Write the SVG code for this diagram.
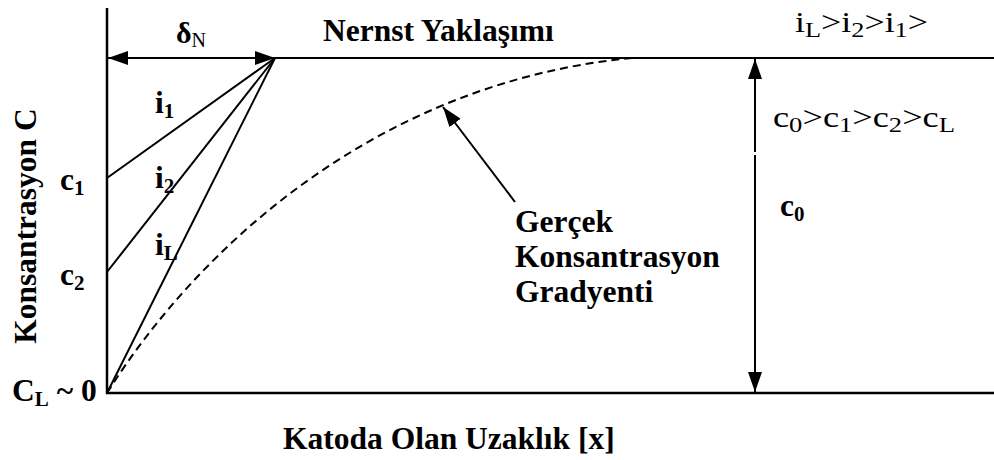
<svg xmlns="http://www.w3.org/2000/svg" width="994" height="460" viewBox="0 0 994 460">
<defs>
<marker id="ah" viewBox="0 0 20 14" refX="20" refY="7" markerWidth="20" markerHeight="14" markerUnits="userSpaceOnUse" orient="auto-start-reverse">
<path d="M0,0 L20,7 L0,14 z" fill="#000"/>
</marker>
</defs>
<style>
.ln{stroke:#000;stroke-width:2;fill:none}
.ax{stroke:#000;stroke-width:2.5;fill:none}
.dash{stroke:#000;stroke-width:2;fill:none;stroke-dasharray:8 5}
.b{font-family:"Liberation Serif","Times New Roman",serif;font-weight:bold;font-size:31.5px;fill:#000}
.r{font-family:"Liberation Serif","Times New Roman",serif;font-size:30px;fill:#000}
.s{font-size:21px}
.rs{font-size:22px}
</style>
<rect width="994" height="460" fill="#fff"/>
<g id="axes">
<line class="ax" x1="107" y1="8" x2="107" y2="394"/>
<line class="ax" x1="106" y1="393" x2="994" y2="393"/>
<line class="ln" x1="275" y1="58" x2="994" y2="58"/>
</g>
<g id="connectors">
<line class="ln" x1="108" y1="58" x2="275" y2="58" marker-start="url(#ah)" marker-end="url(#ah)"/>
<line class="ln" x1="755" y1="59" x2="755" y2="392" stroke-dasharray="93 3 400" marker-start="url(#ah)" marker-end="url(#ah)"/>
<line class="ln" x1="107" y1="178" x2="275" y2="58"/>
<line class="ln" x1="107" y1="272" x2="275" y2="58"/>
<line class="ln" x1="107" y1="393" x2="275" y2="58"/>
<path class="dash" d="M107,393 C200,245 380,82 632,58"/>
<line class="ln" x1="515" y1="202" x2="443" y2="107" marker-end="url(#ah)"/>
</g>
<g id="label-deltaN"><text class="r" x="176" y="43" font-size="29" font-weight="bold">δ<tspan font-size="20" font-weight="normal" dy="4">N</tspan></text></g>
<g id="label-nernst"><text class="b" x="323" y="41" font-size="32">Nernst Yaklaşımı</text></g>
<g id="label-i-order"><text class="r" x="795" y="32" textLength="133" lengthAdjust="spacingAndGlyphs">i<tspan class="rs" dy="5">L</tspan><tspan dy="-5">&gt;i</tspan><tspan class="rs" dy="5">2</tspan><tspan dy="-5">&gt;i</tspan><tspan class="rs" dy="5">1</tspan><tspan dy="-5">&gt;</tspan></text></g>
<g id="label-c-order"><text class="r" x="773" y="127" textLength="182" lengthAdjust="spacingAndGlyphs">c<tspan class="rs" dy="5">0</tspan><tspan dy="-5">&gt;c</tspan><tspan class="rs" dy="5">1</tspan><tspan dy="-5">&gt;c</tspan><tspan class="rs" dy="5">2</tspan><tspan dy="-5">&gt;c</tspan><tspan class="rs" dy="5">L</tspan></text></g>
<g id="label-i1"><text class="b" x="155" y="113">i<tspan class="s" dy="5">1</tspan></text></g>
<g id="label-i2"><text class="b" x="155" y="188">i<tspan class="s" dy="5">2</tspan></text></g>
<g id="label-iL"><text class="b" x="155" y="255">i<tspan class="s" dy="5">L</tspan></text></g>
<g id="label-c1"><text class="b" x="60" y="190">c<tspan class="s" dy="5">1</tspan></text></g>
<g id="label-c2"><text class="b" x="60" y="285">c<tspan class="s" dy="5">2</tspan></text></g>
<g id="label-CL"><text class="b" x="12" y="401">C<tspan class="s" dy="5">L</tspan><tspan dy="-5"> ~ 0</tspan></text></g>
<g id="label-c0"><text class="b" x="780" y="216">c<tspan class="s" dy="5">0</tspan></text></g>
<g id="label-gercek"><text class="b" x="515" y="232">Gerçek</text><text class="b" x="515" y="267">Konsantrasyon</text><text class="b" x="515" y="302">Gradyenti</text></g>
<g id="label-xaxis"><text class="b" x="283" y="449">Katoda Olan Uzaklık [x]</text></g>
<g id="label-yaxis"><text class="b" transform="translate(36,226) rotate(-90)" text-anchor="middle" font-size="32">Konsantrasyon C</text></g>
</svg>
